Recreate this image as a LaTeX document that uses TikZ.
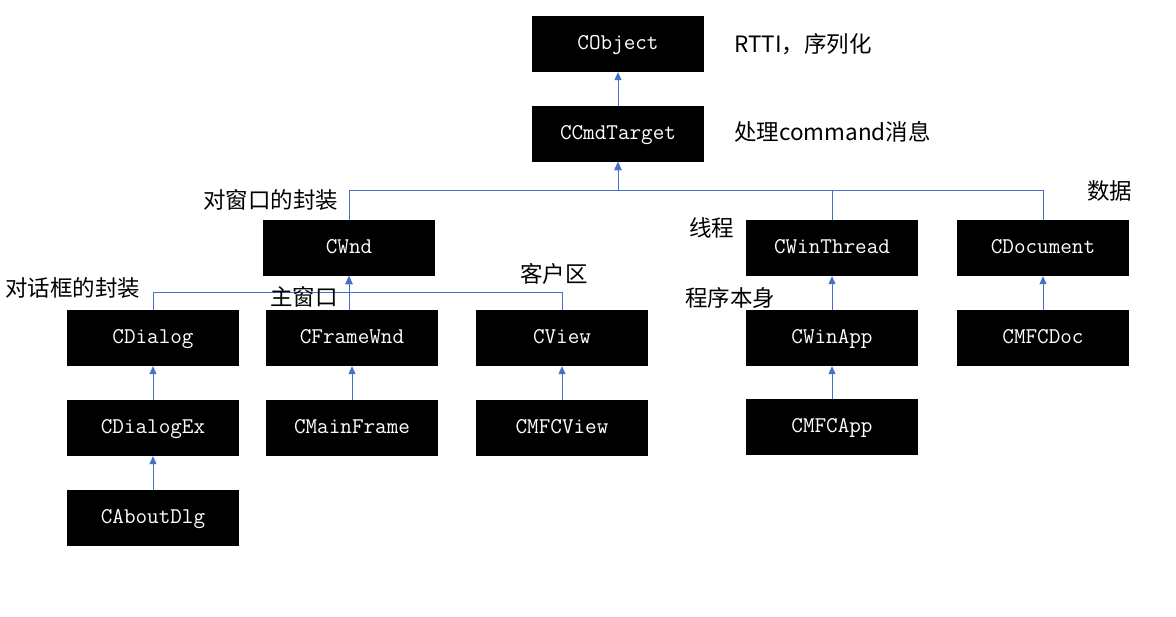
\documentclass[tikz,border=0pt]{standalone}
\usepackage{fontspec}
\newfontfamily\cjk{Noto Sans CJK SC}
\usetikzlibrary{arrows.meta}
\definecolor{lineblue}{HTML}{4472C4}
\tikzset{
  cls/.style={fill=black, text=white, minimum width=172bp, minimum height=56bp, inner sep=0pt,
    text height=15bp, text depth=4bp,
    font=\ttfamily\fontsize{22.5bp}{25bp}\selectfont},
  note/.style={anchor=west, inner sep=0pt, font=\cjk\fontsize{22.5bp}{26bp}\selectfont},
  conn/.style={draw=lineblue, line width=1bp, -{Triangle[width=7bp,length=8bp]}},
}
\begin{document}
\begin{tikzpicture}[x=1bp,y=-1bp]
\useasboundingbox[fill=white] (0,0) rectangle (1176,617);
% classes
\node[cls] (cobject) at (618,44) {CObject};
\node[cls] (ccmd) at (618,134) {CCmdTarget};
\node[cls] (cwnd) at (349,248) {CWnd};
\node[cls] (cthread) at (832,248) {CWinThread};
\node[cls] (cdoc) at (1043,248) {CDocument};
\node[cls] (cdialog) at (153,338) {CDialog};
\node[cls] (cframe) at (352,338) {CFrameWnd};
\node[cls] (cview) at (562,338) {CView};
\node[cls] (capp) at (832,338) {CWinApp};
\node[cls] (cmfcdoc) at (1043,338) {CMFCDoc};
\node[cls] (cdialogex) at (153,428) {CDialogEx};
\node[cls] (cmainframe) at (352,428) {CMainFrame};
\node[cls] (cmfcview) at (562,428) {CMFCView};
\node[cls] (cmfcapp) at (832,427) {CMFCApp};
\node[cls] (cabout) at (153,518) {CAboutDlg};
% junctions
\coordinate (j1) at (618,191);
\coordinate (j2) at (349,293);
% connectors
\draw[conn] (ccmd.north) -- (cobject.south);
\draw[conn] (cwnd.north) |- (j1) -- (ccmd.south);
\draw[conn] (cthread.north) |- (j1) -- (ccmd.south);
\draw[conn] (cdoc.north) |- (j1) -- (ccmd.south);
\draw[conn] (cdialog.north) |- (j2) -- (cwnd.south);
\draw[conn] (cwnd.south |- cframe.north) -- (cwnd.south);
\draw[conn] (cview.north) |- (j2) -- (cwnd.south);
\draw[conn] (capp.north) -- (cthread.south);
\draw[conn] (cmfcdoc.north) -- (cdoc.south);
\draw[conn] (cdialogex.north) -- (cdialog.south);
\draw[conn] (cmainframe.north) -- (cframe.south);
\draw[conn] (cmfcview.north) -- (cview.south);
\draw[conn] (cmfcapp.north) -- (capp.south);
\draw[conn] (cabout.north) -- (cdialogex.south);
% notes
\node[note] (n1) at (734,44) {RTTI，序列化};
\node[note] (n2) at (734,132) {处理command消息};
\node[note] (n3) at (203,200) {对窗口的封装};
\node[note] (n4) at (1087,191) {数据};
\node[note] (n5) at (689,228) {线程};
\node[note] (n6) at (5,288) {对话框的封装};
\node[note] (n7) at (270,297) {主窗口};
\node[note] (n8) at (520,274) {客户区};
\node[note] (n9) at (685,298) {程序本身};
\end{tikzpicture}
\end{document}
